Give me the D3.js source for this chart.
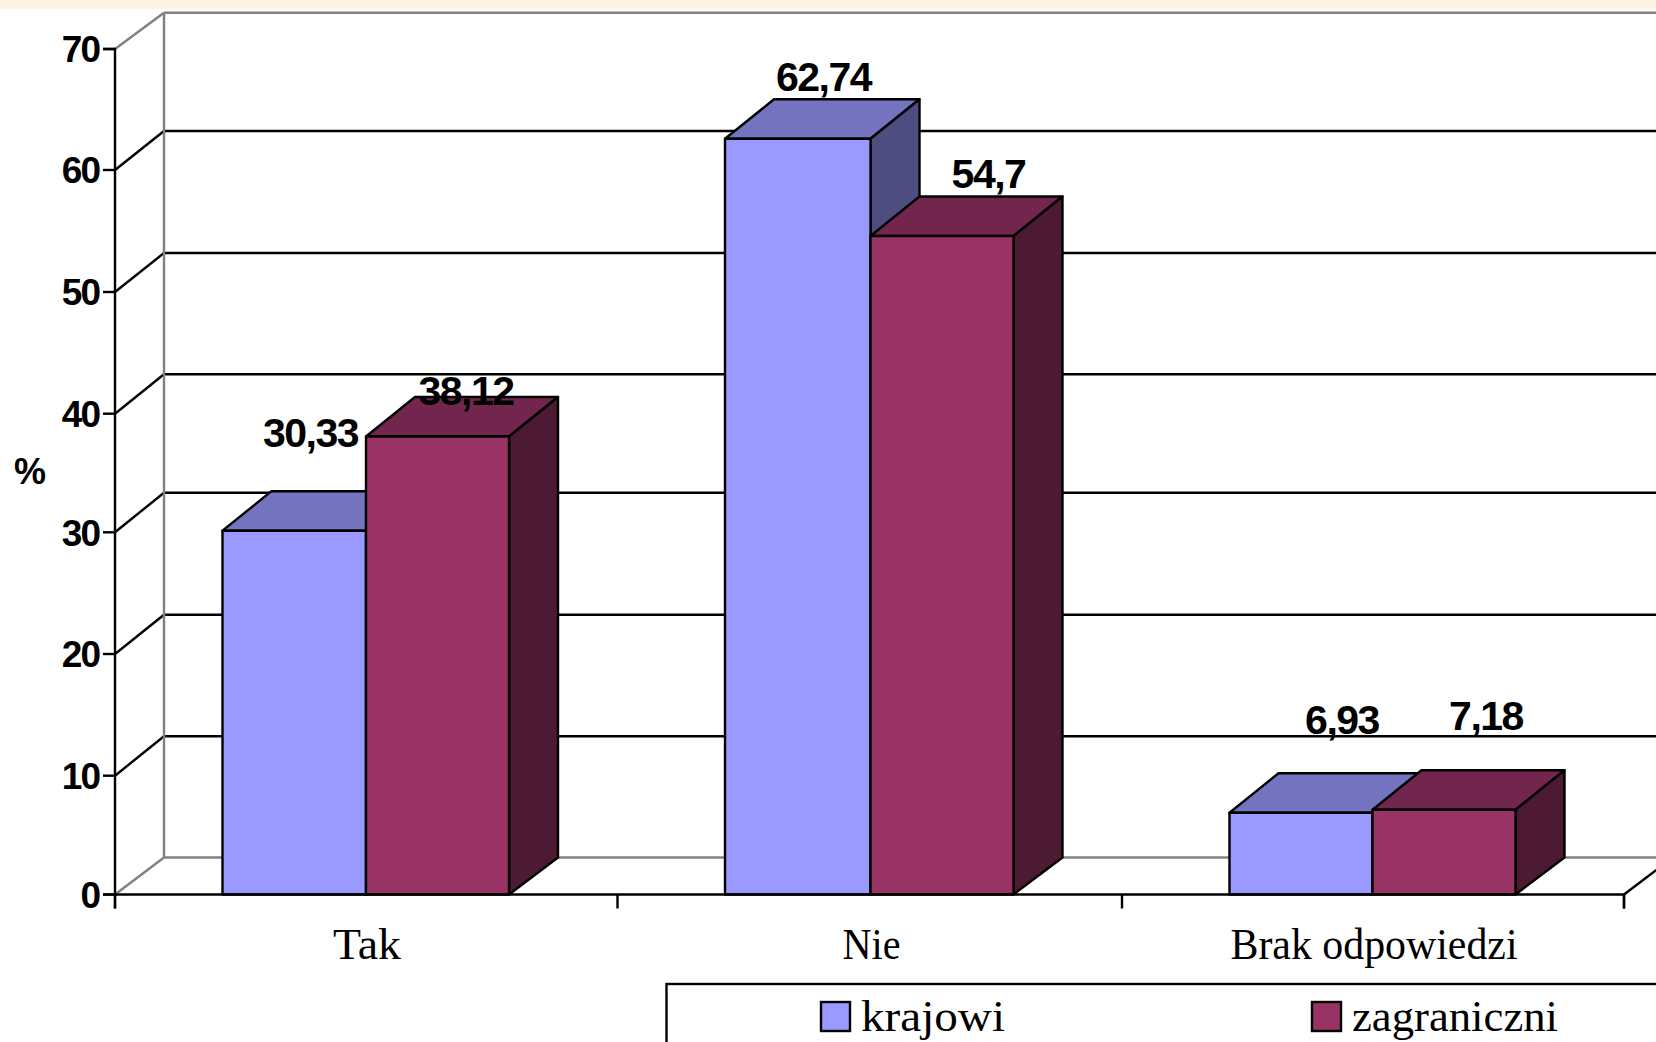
<!DOCTYPE html>
<html><head><meta charset="utf-8"><style>
html,body{margin:0;padding:0;background:#fff;overflow:hidden}
svg{display:block}
.num{font-family:"Liberation Sans",Arial,sans-serif;font-weight:700;fill:#000}
.axisnum{font-size:37px;letter-spacing:-2px}
.val{font-size:41px;letter-spacing:-1.5px}
.ser{font-family:"Liberation Serif","Times New Roman",serif;font-size:44px;fill:#000}
</style></head><body><svg id="c" width="1656" height="1042"></svg>
<script src="https://cdn.jsdelivr.net/npm/d3@7"></script>
<script>
const categories=["Tak","Nie","Brak odpowiedzi"];
const seriesNames=["krajowi","zagraniczni"];
const krajowi=[30.33,62.74,6.93];
const zagraniczni=[38.12,54.7,7.18];
const labels=[["30,33","62,74","6,93"],["38,12","54,7","7,18"]];
const yTicks=[0,10,20,30,40,50,60,70];
const seriesValues=[krajowi,zagraniczni];
const colors={krajowi:["#9999FF","#7373BF","#4D4D80"],zagraniczni:["#993366","#73264D","#4D1A33"]};

// label placement relative to the top centre of each bar: [dx, baseline dy]
const labelNudge=[[[16.5,-84],[28.5,-31]],[[27,-48],[46.5,-48]],[[41,-79],[42,-79.5]]];
const catWidths=[68,58,287], legendWidths=[144,206];

const W=1656,depthX=49,floorDy=37,topDy=39.5,barW=143,groupOff=107.5;
const svg=d3.select("#c");
svg.append("rect").attr("width",W).attr("height",9).attr("fill","#FDF3E5");

const y=d3.scaleLinear().domain(yTicks).range([894.5,775.7,654,532.3,413.7,292,170,49]);
const yBar=d3.scaleLinear().domain([0,10,70]).range([894.5,776.5,51]);
const yBack=d3.scaleLinear().domain(yTicks).range([857.5,736.3,614.7,492.7,374.3,253,131,12.7]);
const xEdge=d3.scaleOrdinal([...categories,"end"],[115,617.5,1122,1624]);
const x0=xEdge(categories[0]),backX=x0+depthX;
const secondOff=d3.scaleOrdinal(categories,[143.5,145.5,143]);

// walls
const GRAY="#808080";
const g=svg.append("g").attr("fill","none");
yTicks.forEach(t=>{
  const edge=t===0||t===70;
  g.append("line").attr("x1",backX).attr("x2",W).attr("y1",yBack(t)).attr("y2",yBack(t))
    .attr("stroke",edge?GRAY:"#000").attr("stroke-width",2.4);
  g.append("line").attr("x1",x0).attr("x2",backX).attr("y1",y(t)).attr("y2",yBack(t))
    .attr("stroke",edge?GRAY:"#000").attr("stroke-width",2.4);
});
g.append("line").attr("x1",backX).attr("x2",backX).attr("y1",yBack(70)).attr("y2",yBack(0))
  .attr("stroke",GRAY).attr("stroke-width",2.4);
g.append("line").attr("x1",xEdge("end")).attr("x2",xEdge("end")+depthX).attr("y1",y(0)).attr("y2",y(0)-floorDy)
  .attr("stroke","#000").attr("stroke-width",2.4);

// axes
const yAxis=svg.append("g").attr("transform",`translate(${x0},0)`)
  .call(d3.axisLeft(y).tickValues(yTicks).tickSize(12).tickPadding(4).offset(0));
yAxis.attr("font-family",null).attr("font-size",null);
yAxis.select(".domain").attr("stroke","#000").attr("stroke-width",2.4);
yAxis.selectAll(".tick line").attr("stroke","#000").attr("stroke-width",2.4);
yAxis.selectAll(".tick text").attr("class","num axisnum").attr("dy","0.36em");

// bars
categories.forEach((cat,ci)=>{
  seriesNames.forEach((name,si)=>{
    const v=seriesValues[si][ci], c=colors[name];
    const l=xEdge(cat)+groupOff+(si?secondOff(cat):0), w=si?barW:secondOff(cat), r=l+w, t=yBar(v), b=y(0);
    const grp=svg.append("g").attr("stroke","#000").attr("stroke-width",2.4).attr("stroke-linejoin","round");
    const poly=(pts,f)=>grp.append("polygon").attr("points",pts.map(p=>p.join(",")).join(" ")).attr("fill",f);
    poly([[l,t],[l+depthX,t-topDy],[r+depthX,t-topDy],[r,t]],c[1]);
    poly([[r,t],[r+depthX,t-topDy],[r+depthX,b-floorDy],[r,b]],c[2]);
    grp.append("rect").attr("x",l).attr("y",t).attr("width",w).attr("height",b-t).attr("fill",c[0]);
  });
});

// baseline on top of the bars
const xAxis=svg.append("g").attr("transform",`translate(0,${y(0)})`)
  .call(d3.axisBottom(xEdge).tickSize(14).tickFormat("").offset(0));
xAxis.select(".domain").attr("stroke","#000").attr("stroke-width",2.4);
xAxis.selectAll(".tick line").attr("stroke","#000").attr("stroke-width",2.4);

// value labels and category labels
categories.forEach((cat,ci)=>{
  seriesNames.forEach((name,si)=>{
    const v=seriesValues[si][ci];
    const cx=xEdge(cat)+groupOff+(si?secondOff(cat):0)+barW/2;
    const [dx,dy]=labelNudge[ci][si];
    svg.append("text").attr("class","num val").attr("text-anchor","middle")
      .attr("x",cx+dx).attr("y",yBar(v)+dy).text(labels[si][ci]);
  });
  svg.append("text").attr("class","ser").attr("text-anchor","middle")
    .attr("x",xEdge(cat)+(ci===1?254:252)).attr("y",959)
    .attr("textLength",catWidths[ci]).attr("lengthAdjust","spacingAndGlyphs").text(cat);
});

svg.append("text").attr("class","num").attr("font-size",36).attr("x",14).attr("y",484).text("%");

// legend
svg.append("rect").attr("x",666.5).attr("y",984).attr("width",1100).attr("height",200)
  .attr("fill","#fff").attr("stroke","#000").attr("stroke-width",2.4);
const legendX=d3.scaleOrdinal(seriesNames,[821,1312]);
seriesNames.forEach((name,i)=>{
  svg.append("rect").attr("x",legendX(name)).attr("y",1002).attr("width",29).attr("height",29)
    .attr("fill",colors[name][0]).attr("stroke","#000").attr("stroke-width",2.4);
  svg.append("text").attr("class","ser").attr("x",legendX(name)+40).attr("y",1031)
    .attr("textLength",legendWidths[i]).attr("lengthAdjust","spacingAndGlyphs").text(name);
});
</script></body></html>
